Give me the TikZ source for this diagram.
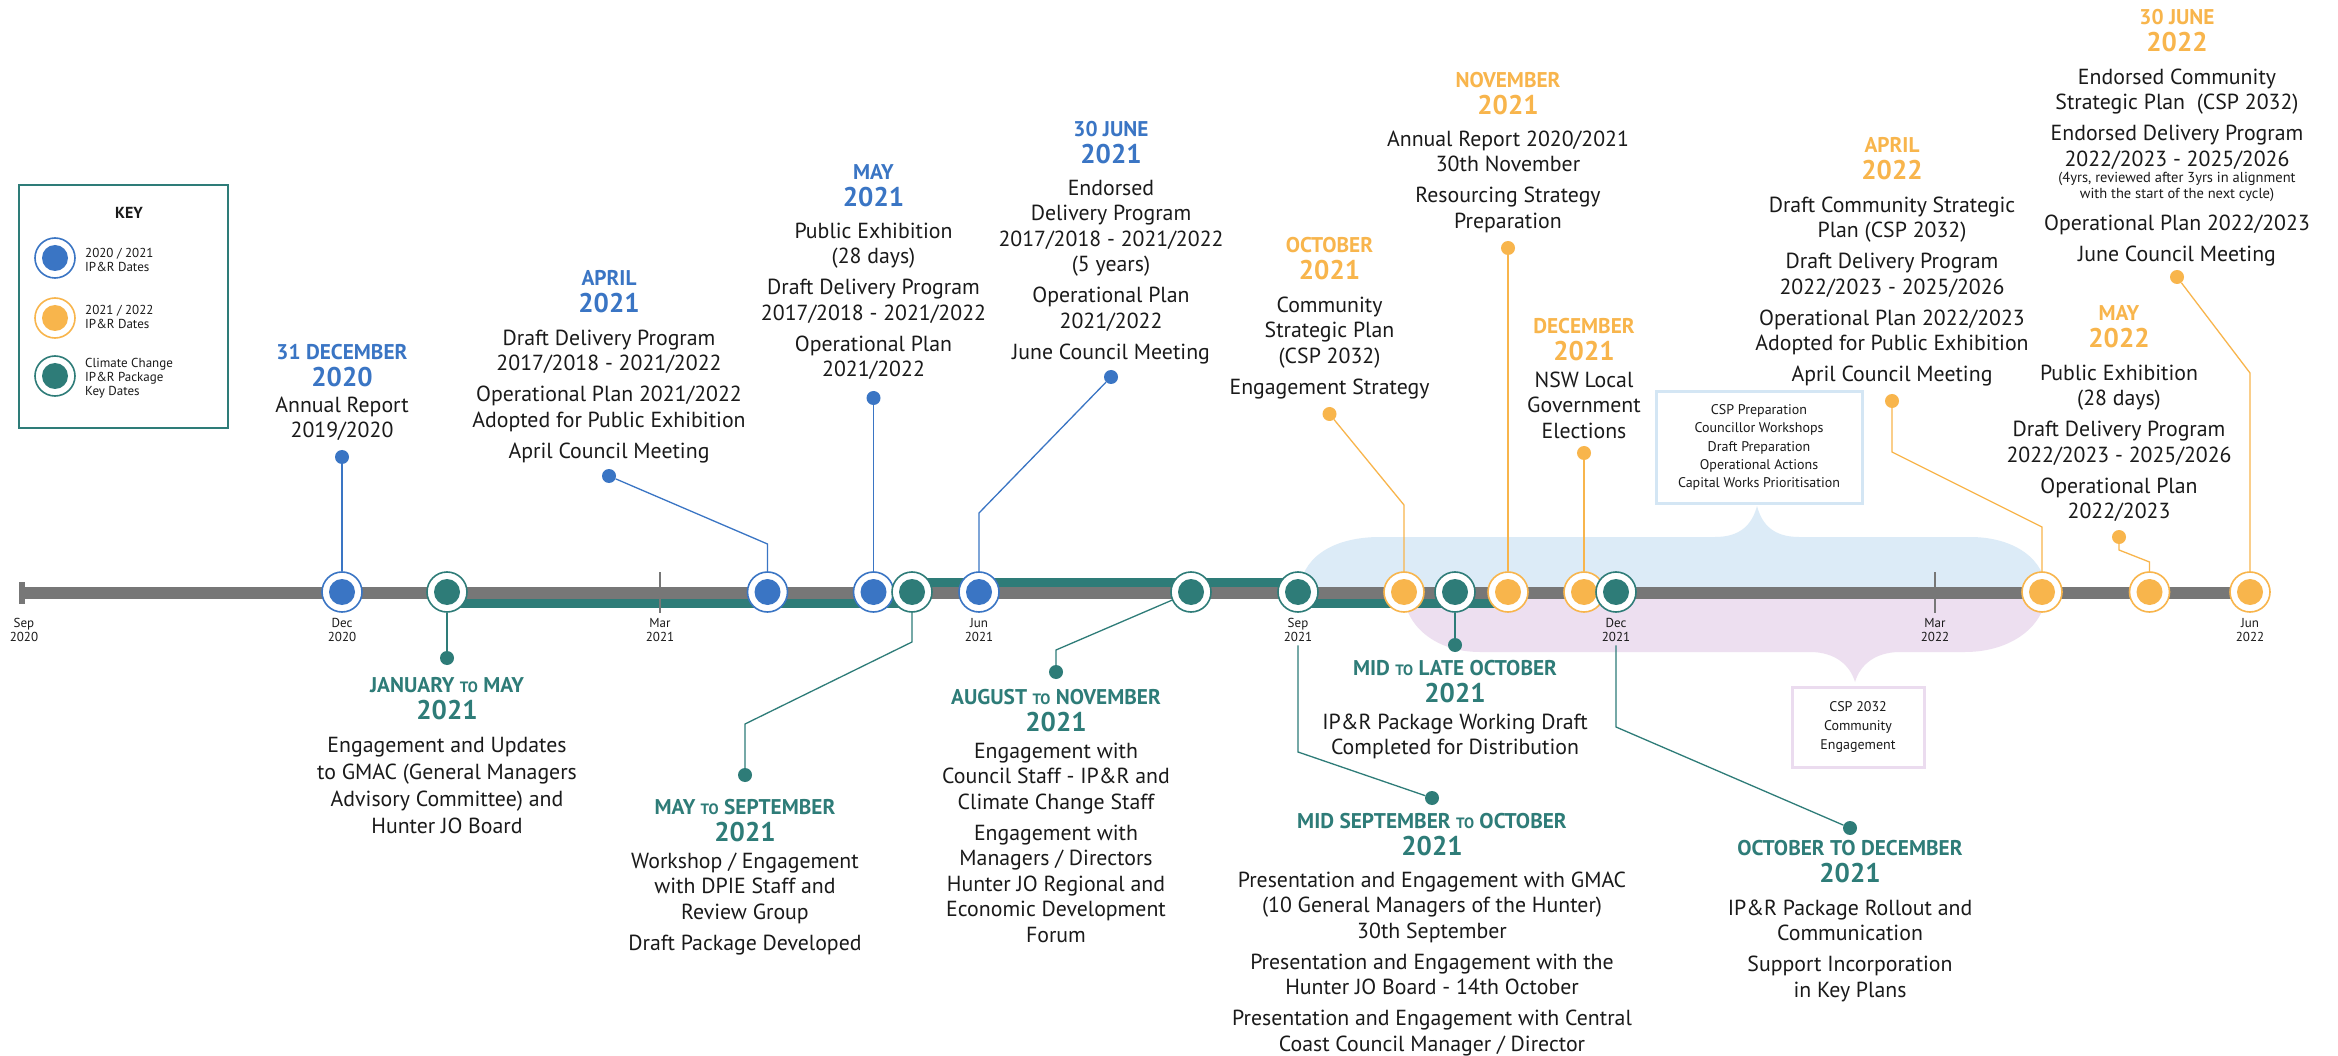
\documentclass[tikz,border=0pt]{standalone}
\usepackage{fontspec}
\setmainfont{PT Sans}
\definecolor{cb}{HTML}{3A75C4}
\definecolor{co}{HTML}{F8B54C}
\definecolor{ct}{HTML}{2E7C78}
\definecolor{gr}{HTML}{777777}
\definecolor{ink}{HTML}{1A1A1A}
\definecolor{blb}{HTML}{DCEBF7}
\definecolor{blp}{HTML}{EDDFF0}
\definecolor{bxb}{HTML}{D4E6F4}
\definecolor{bxp}{HTML}{EBDCEF}
\newcommand\tb[1]{\begin{tabular}[t]{@{}c@{}}#1\end{tabular}}
\newcommand\tl[1]{\begin{tabular}[t]{@{}l@{}}#1\end{tabular}}
\newcommand\yr[1]{{\fontsize{27}{27}\selectfont #1}}
\newcommand\gp{\\[5.5pt]}
\newcommand\smto{{\fontsize{15}{15}\selectfont TO}}
\begin{document}
\begin{tikzpicture}[x=1pt,y=-1pt,
  mk/.style={circle, draw=#1, line width=1.6pt, fill=white, minimum size=40pt, inner sep=0pt,
    path picture={\fill[#1] (path picture bounding box.center) circle (13pt);}},
  dt/.style={circle, fill=#1, minimum size=14pt, inner sep=0pt},
  ln/.style={draw=#1, line width=1.3pt},
  hd/.style={anchor=base, inner sep=0pt, font=\fontsize{21.3}{25.5}\selectfont\bfseries},
  bd/.style={anchor=base, inner sep=0pt, font=\fontsize{21.8}{25.5}\selectfont, text=ink},
  ml/.style={anchor=base, inner sep=0pt, font=\fontsize{13}{13.5}\selectfont, text=ink},
  lg/.style={anchor=base west, inner sep=0pt, font=\fontsize{13}{14}\selectfont, text=ink}]
\useasboundingbox (0,0) rectangle (2338,1056);
\fill[white] (0,0) rectangle (2338,1056);
% blobs
\fill[blb] (1300,592) .. controls (1300,560) and (1330,537) .. (1380,537) -- (1715,537)
  .. controls (1740,537) and (1752,525) .. (1757,506) .. controls (1762,525) and (1774,537) .. (1799,537)
  -- (1970,537) .. controls (2015,537) and (2046,560) .. (2046,592) -- cycle;
\fill[blp] (1404,592) -- (2046,592) .. controls (2046,625) and (2012,652) .. (1965,652) -- (1900,652)
  .. controls (1875,652) and (1860,665) .. (1855,682) .. controls (1850,665) and (1835,652) .. (1810,652)
  -- (1480,652) .. controls (1435,652) and (1404,625) .. (1404,592) -- cycle;
% bars
\fill[gr] (19,587) rectangle (2250,599);
\fill[gr] (19,582) rectangle (25,604);
\fill[ct] (447,599) rectangle (912,608);
\fill[ct] (912,578) rectangle (1298,587);
\fill[ct] (1298,599) rectangle (1508,608);
\draw[gr, line width=2.5pt] (660,572) -- (660,613);
\draw[gr, line width=2.5pt] (1935,572) -- (1935,613);
% month labels
\node[ml] (m-sep20) at (24,627.5) {\tb{Sep\\2020}};
\node[ml] (m-dec20) at (342,627.5) {\tb{Dec\\2020}};
\node[ml] (m-mar21) at (660,627.5) {\tb{Mar\\2021}};
\node[ml] (m-jun21) at (979,627.5) {\tb{Jun\\2021}};
\node[ml] (m-sep21) at (1298,627.5) {\tb{Sep\\2021}};
\node[ml] (m-dec21) at (1616,627.5) {\tb{Dec\\2021}};
\node[ml] (m-mar22) at (1935,627.5) {\tb{Mar\\2022}};
\node[ml] (m-jun22) at (2250,627.5) {\tb{Jun\\2022}};
% markers
\node[mk=cb] (c-dec20) at (342,592) {};
\node[mk=ct] (c-jan21) at (447,592) {};
\node[mk=cb] (c-apr21) at (767.5,592) {};
\node[mk=cb] (c-may21) at (873.5,592) {};
\node[mk=ct] (c-maysep) at (912,592) {};
\node[mk=cb] (c-jun21) at (979,592) {};
\node[mk=ct] (c-augnov) at (1191,592) {};
\node[mk=ct] (c-sep21) at (1298,592) {};
\node[mk=co] (c-oct21) at (1404,592) {};
\node[mk=ct] (c-midlate) at (1455,592) {};
\node[mk=co] (c-nov21) at (1508,592) {};
\node[mk=co] (c-dec21) at (1584,592) {};
\node[mk=ct] (c-octdec) at (1616,592) {};
\node[mk=co] (c-apr22) at (2042,592) {};
\node[mk=co] (c-may22) at (2149.5,592) {};
\node[mk=co] (c-jun22) at (2250,592) {};
% dots
\node[dt=cb] (d-dec20) at (342,457) {};
\node[dt=cb] (d-apr21) at (609,476) {};
\node[dt=cb] (d-may21) at (873.5,398) {};
\node[dt=cb] (d-jun21) at (1111,377) {};
\node[dt=co] (d-oct21) at (1329.5,414) {};
\node[dt=co] (d-nov21) at (1508,248) {};
\node[dt=co] (d-dec21) at (1584,453) {};
\node[dt=co] (d-apr22) at (1892,401) {};
\node[dt=co] (d-may22) at (2119,537) {};
\node[dt=co] (d-jun22) at (2177,277) {};
\node[dt=ct] (d-jan21) at (447,658) {};
\node[dt=ct] (d-maysep) at (745,775) {};
\node[dt=ct] (d-augnov) at (1056,672) {};
\node[dt=ct] (d-midlate) at (1455,645) {};
\node[dt=ct] (d-midsep) at (1432,798) {};
\node[dt=ct] (d-octdec) at (1850,828) {};
% connectors
\draw[ln=cb] (d-dec20) -- (c-dec20);
\draw[ln=cb] (d-apr21) -- (767.5,544) -- (c-apr21);
\draw[ln=cb] (d-may21) -- (c-may21);
\draw[ln=cb] (d-jun21) -- (979,513) -- (c-jun21);
\draw[ln=co] (d-oct21) -- (1404,505) -- (c-oct21);
\draw[ln=co] (d-nov21) -- (c-nov21);
\draw[ln=co] (d-dec21) -- (c-dec21);
\draw[ln=co] (d-apr22) -- (1892,452) -- (2042,527) -- (c-apr22);
\draw[ln=co] (d-may22) -- (2119,550) -- (2149.5,562) -- (c-may22);
\draw[ln=co] (d-jun22) -- (2250,373) -- (c-jun22);
\draw[ln=ct] (c-jan21) -- (d-jan21);
\draw[ln=ct] (c-maysep) -- (912,642) -- (745,724) -- (d-maysep);
\draw[ln=ct] (c-augnov) -- (1056,650) -- (d-augnov);
\draw[ln=ct] (c-midlate) -- (d-midlate);
\draw[ln=ct] (m-sep21) -- (1298,752) -- (d-midsep);
\draw[ln=ct] (m-dec21) -- (1616,727) -- (d-octdec);
% texts above
\node[hd,text=cb] (h-dec20) at (342,359.5) {\tb{31 DECEMBER\\\yr{2020}}};
\node[bd] (b-dec20) at (342,412.3) {\tb{Annual Report\\2019/2020}};
\node[hd,text=cb] (h-apr21) at (609,285.5) {\tb{APRIL\\\yr{2021}}};
\node[bd] (b-apr21) at (609,345.3) {\tb{Draft Delivery Program\\2017/2018 - 2021/2022\gp Operational Plan 2021/2022\\Adopted for Public Exhibition\gp April Council Meeting}};
\node[hd,text=cb] (h-may21) at (873.5,179.2) {\tb{MAY\\\yr{2021}}};
\node[bd] (b-may21) at (873.5,238.3) {\tb{Public Exhibition\\(28 days)\gp Draft Delivery Program\\2017/2018 - 2021/2022\gp Operational Plan\\2021/2022}};
\node[hd,text=cb] (h-jun21) at (1111,136.5) {\tb{30 JUNE\\\yr{2021}}};
\node[bd] (b-jun21) at (1111,195.3) {\tb{Endorsed\\Delivery Program\\2017/2018 - 2021/2022\\(5 years)\gp Operational Plan\\2021/2022\gp June Council Meeting}};
\node[hd,text=co] (h-oct21) at (1329.5,252.5) {\tb{OCTOBER\\\yr{2021}}};
\node[bd] (b-oct21) at (1329.5,312.3) {\tb{Community\\Strategic Plan\\(CSP 2032)\gp Engagement Strategy}};
\node[hd,text=co] (h-nov21) at (1508,87.5) {\tb{NOVEMBER\\\yr{2021}}};
\node[bd] (b-nov21) at (1508,146.3) {\tb{Annual Report 2020/2021\\30th November\gp Resourcing Strategy\\Preparation}};
\node[hd,text=co] (h-dec21) at (1584,333.5) {\tb{DECEMBER\\\yr{2021}}};
\node[bd] (b-dec21) at (1584,387.3) {\tb{NSW Local\\Government\\Elections}};
\node[hd,text=co] (h-apr22) at (1892,152.5) {\tb{APRIL\\\yr{2022}}};
\node[bd] (b-apr22) at (1892,212.3) {\tb{Draft Community Strategic\\Plan (CSP 2032)\gp Draft Delivery Program\\2022/2023 - 2025/2026\gp Operational Plan 2022/2023\\Adopted for Public Exhibition\gp April Council Meeting}};
\node[hd,text=co] (h-may22) at (2119,320.5) {\tb{MAY\\\yr{2022}}};
\node[bd] (b-may22) at (2119,380.3) {\tb{Public Exhibition\\(28 days)\gp Draft Delivery Program\\2022/2023 - 2025/2026\gp Operational Plan\\2022/2023}};
\node[hd,text=co] (h-jun22) at (2177,24.5) {\tb{30 JUNE\\\yr{2022}}};
\node[bd] (b-jun22) at (2177,84.3) {\tb{Endorsed Community\\Strategic Plan\ \ (CSP 2032)\gp Endorsed Delivery Program\\2022/2023 - 2025/2026}};
\node[anchor=base, inner sep=0pt, font=\fontsize{14.5}{16}\selectfont, text=ink] (s-jun22) at (2177,183) {\tb{(4yrs, reviewed after 3yrs in alignment\\with the start of the next cycle)}};
\node[bd] (b2-jun22) at (2177,230.3) {\tb{Operational Plan 2022/2023\gp June Council Meeting}};
% texts below
\node[hd,text=ct] (h-jan21) at (447,692.5) {\tb{JANUARY \smto\ MAY\\\yr{2021}}};
\node[bd] (b-jan21) at (447,752.3) {\tb{Engagement and Updates\\[1.5pt]to GMAC (General Managers\\[1.5pt]Advisory Committee) and\\[1.5pt]Hunter JO Board}};
\node[hd,text=ct] (h-maysep) at (745,814.5) {\tb{MAY \smto\ SEPTEMBER\\\yr{2021}}};
\node[bd] (b-maysep) at (745,868.3) {\tb{Workshop / Engagement\\with DPIE Staff and\\Review Group\gp Draft Package Developed}};
\node[hd,text=ct] (h-augnov) at (1056,704.5) {\tb{AUGUST \smto\ NOVEMBER\\\yr{2021}}};
\node[bd] (b-augnov) at (1056,758.3) {\tb{Engagement with\\Council Staff - IP\&R and\\Climate Change Staff\gp Engagement with\\Managers / Directors\\Hunter JO Regional and\\Economic Development\\Forum}};
\node[hd,text=ct] (h-midlate) at (1455,675.5) {\tb{MID \smto\ LATE OCTOBER\\\yr{2021}}};
\node[bd] (b-midlate) at (1455,729.3) {\tb{IP\&R Package Working Draft\\Completed for Distribution}};
\node[hd,text=ct] (h-midsep) at (1432,828.5) {\tb{MID SEPTEMBER \smto\ OCTOBER\\\yr{2021}}};
\node[bd] (b-midsep) at (1432,887.3) {\tb{Presentation and Engagement with GMAC\\(10 General Managers of the Hunter)\\30th September\gp Presentation and Engagement with the\\Hunter JO Board - 14th October\gp Presentation and Engagement with Central\\Coast Council Manager / Director}};
\node[hd,text=ct] (h-octdec) at (1850,855.5) {\tb{OCTOBER TO DECEMBER\\\yr{2021}}};
\node[bd] (b-octdec) at (1850,915.3) {\tb{IP\&R Package Rollout and\\Communication\gp Support Incorporation\\in Key Plans}};
% boxes
\node[draw=bxb, line width=3pt, fill=white, minimum width=206pt, minimum height=111pt, inner sep=0pt,
  font=\fontsize{14}{18.3}\selectfont, text=ink] (cspprep) at (1759,447.5)
  {\tb{CSP Preparation\\Councillor Workshops\\Draft Preparation\\Operational Actions\\Capital Works Prioritisation}};
\node[draw=bxp, line width=3pt, fill=white, minimum width=132pt, minimum height=80pt, inner sep=0pt,
  font=\fontsize{14}{19}\selectfont, text=ink] (cspeng) at (1858,727)
  {\tb{CSP 2032\\Community\\Engagement}};
% key
\node[draw=ct, line width=2.5pt, minimum width=209pt, minimum height=243pt, inner sep=0pt] (key) at (123.5,306.5) {};
\node[inner sep=0pt, font=\fontsize{16}{16}\selectfont\bfseries, text=ink] (key-t) at (129,213) {KEY};
\node[mk=cb] (k1) at (55,258) {};
\node[mk=co] (k2) at (55,318) {};
\node[mk=ct] (k3) at (55,376) {};
\node[lg] (k1-t) at (85,257.5) {\tl{2020 / 2021\\IP\&R Dates}};
\node[lg] (k2-t) at (85,314.5) {\tl{2021 / 2022\\IP\&R Dates}};
\node[lg] (k3-t) at (85,367.5) {\tl{Climate Change\\IP\&R Package\\Key Dates}};
\end{tikzpicture}
\end{document}
